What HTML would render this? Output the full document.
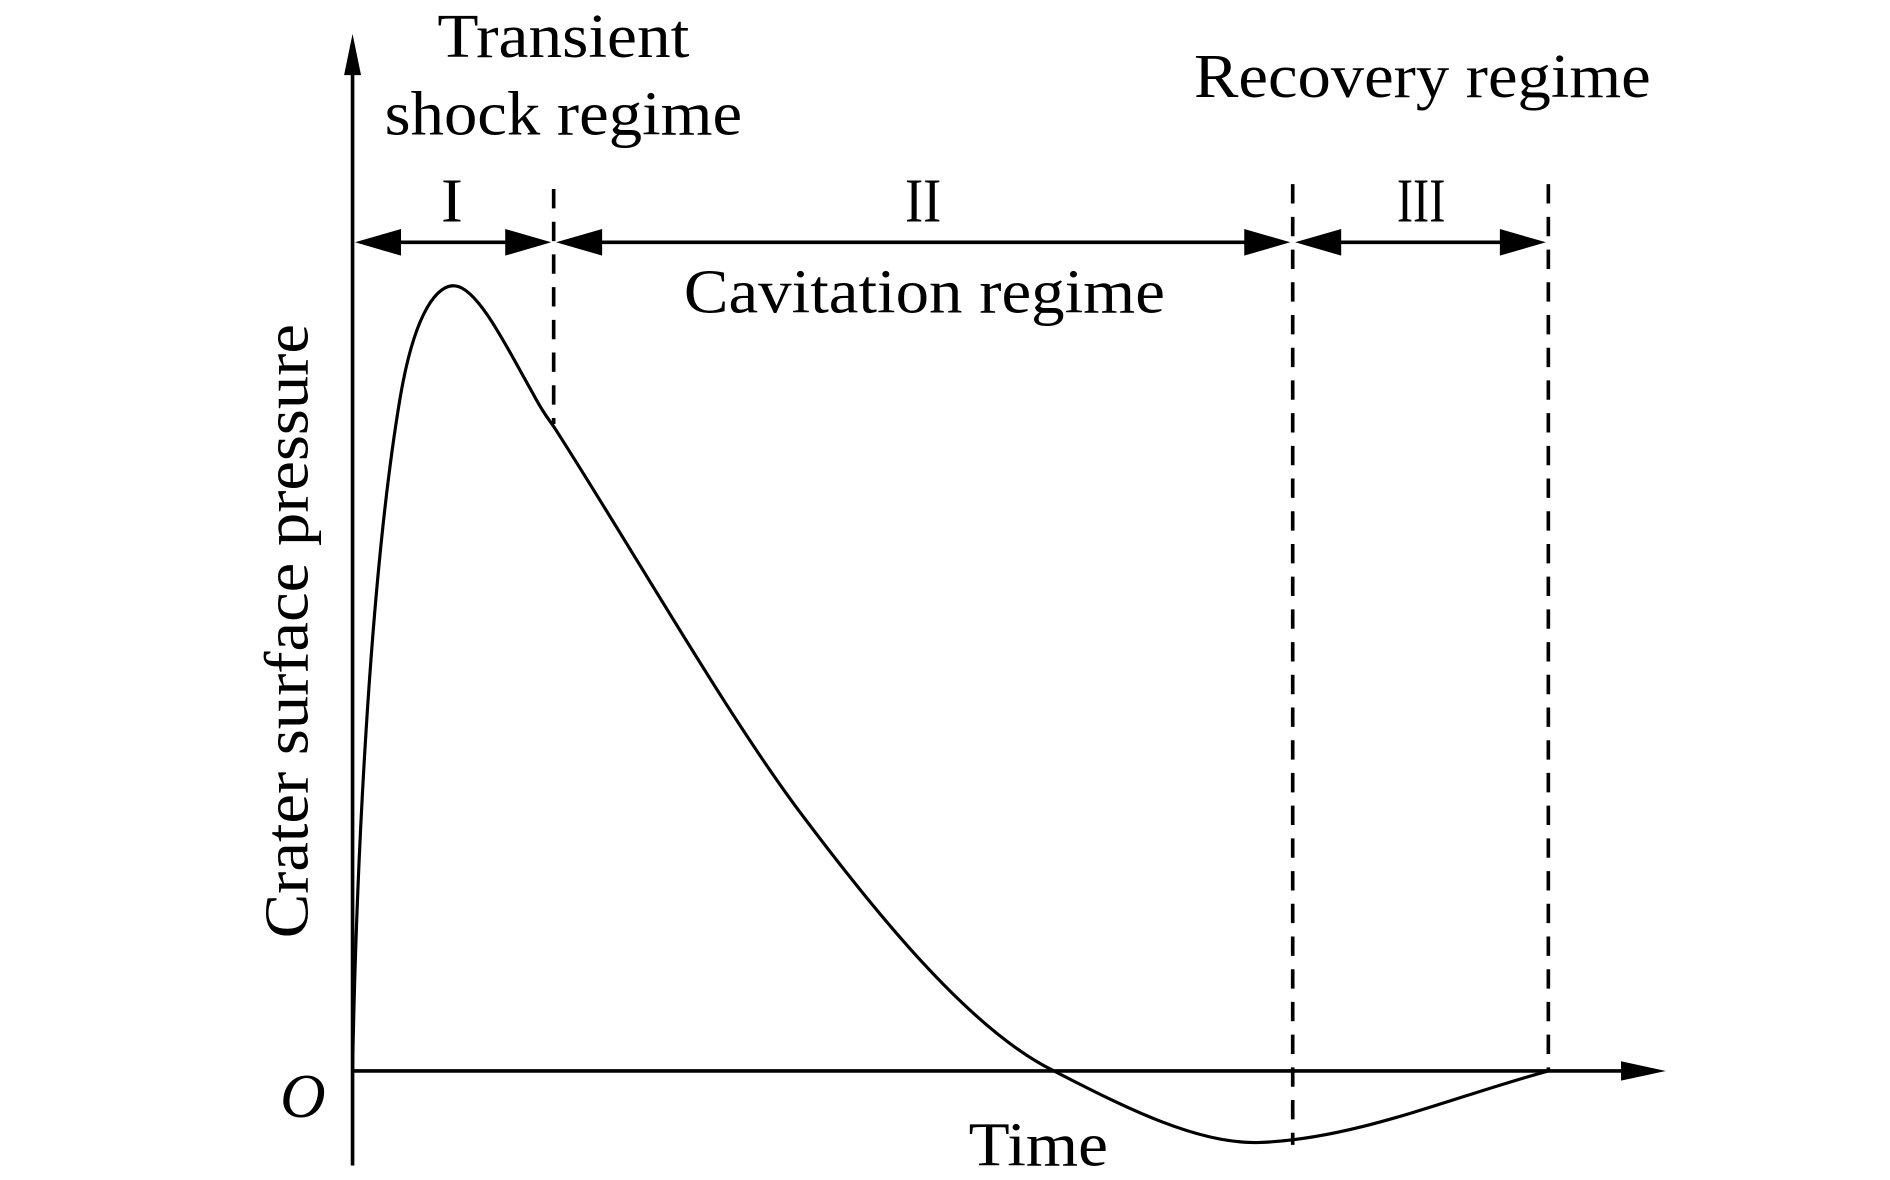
<!DOCTYPE html>
<html><head><style>html,body{margin:0;padding:0;background:#fff}svg{display:block}</style></head>
<body>
<svg width="1890" height="1180" viewBox="0 0 1560 974" preserveAspectRatio="none" xmlns="http://www.w3.org/2000/svg" font-family="Liberation Serif, serif" fill="#000">
<!-- axes -->
<line x1="291" y1="962" x2="291" y2="45" stroke="#000" stroke-width="3"/>
<path d="M284,62 L291,28 L298,62z"/>
<line x1="291" y1="884" x2="1345" y2="884" stroke="#000" stroke-width="3"/>
<path d="M1338,876 L1375,884 L1338,892z"/>
<!-- dashed lines -->
<g stroke="#000" stroke-width="3" stroke-dasharray="16,11">
<line x1="457" y1="156" x2="457" y2="350"/>
<line x1="1067" y1="152" x2="1067" y2="945"/>
<line x1="1278" y1="152" x2="1278" y2="884"/>
</g>
<!-- range arrows -->
<g stroke="#000" stroke-width="3">
<line x1="320" y1="200" x2="428" y2="200"/>
<line x1="486" y1="200" x2="1038" y2="200"/>
<line x1="1096" y1="200" x2="1249" y2="200"/>
</g>
<g>
<path d="M293,200 L331,189 L331,211z"/>
<path d="M455,200 L417,189 L417,211z"/>
<path d="M459,200 L497,189 L497,211z"/>
<path d="M1065,200 L1027,189 L1027,211z"/>
<path d="M1069,200 L1107,189 L1107,211z"/>
<path d="M1276,200 L1238,189 L1238,211z"/>
</g>
<!-- curve -->
<path d="M291,884 C294,720 305,480 330,330 C342.5,255 362,234 376,236 C395,238 420,290 440,325 C448,340 452,345 457,352 C520,450 600,590 660,670 C720,750 800,850 870,884 C930,915 990,945 1040,943 C1120,940 1200,905 1278,884" fill="none" stroke="#000" stroke-width="2.6"/>
<!-- text -->
<g font-size="52" text-anchor="middle">
<text x="465" y="47" textLength="208" lengthAdjust="spacingAndGlyphs">Transient</text>
<text x="465" y="111" textLength="295" lengthAdjust="spacingAndGlyphs">shock regime</text>
<text x="1174" y="80" textLength="377" lengthAdjust="spacingAndGlyphs">Recovery regime</text>
<text x="763" y="258" textLength="397" lengthAdjust="spacingAndGlyphs">Cavitation regime</text>
<text x="857" y="962" textLength="115" lengthAdjust="spacingAndGlyphs">Time</text>
<text x="373" y="183" textLength="18" lengthAdjust="spacingAndGlyphs">I</text>
<text x="762" y="183" textLength="30" lengthAdjust="spacingAndGlyphs">II</text>
<text x="1173" y="183" textLength="40" lengthAdjust="spacingAndGlyphs">III</text>
<text x="250" y="922" font-style="italic">O</text>
<text transform="translate(254,521) rotate(-90)" textLength="507" lengthAdjust="spacingAndGlyphs">Crater surface pressure</text>
</g>
</svg>
</body></html>
